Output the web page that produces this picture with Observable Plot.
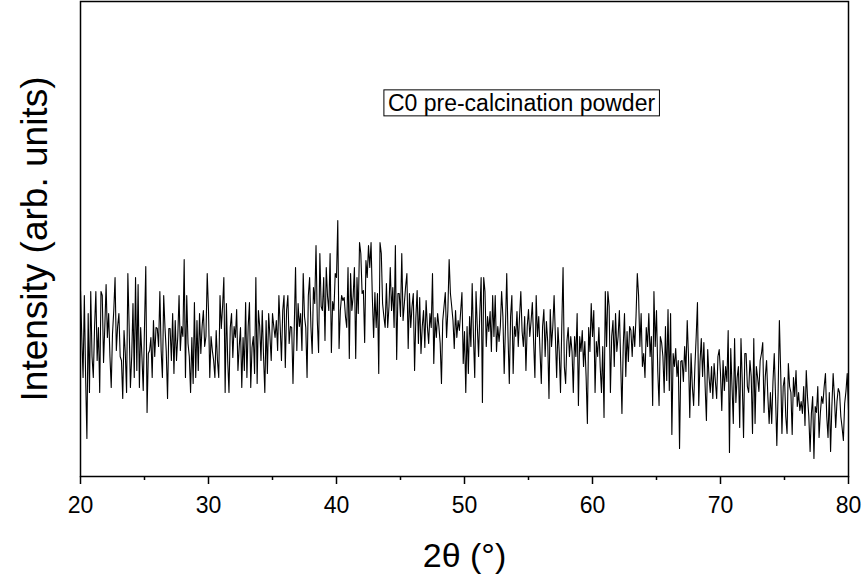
<!DOCTYPE html>
<html>
<head>
<meta charset="utf-8">
<script src="https://cdn.jsdelivr.net/npm/d3@7"></script>
<script src="https://cdn.jsdelivr.net/npm/@observablehq/plot@0.6"></script>
<style>
  html, body { margin: 0; padding: 0; background: #fff; }
  #chart { width: 868px; height: 582px; }
</style>
</head>
<body>
<div id="chart"></div>
<script>
// 2θ scan: start, step (degrees)
const startAngle = 20;
const stepAngle = 0.1;

// Intensity (arb. units), 0.1° steps, one array per 10° segment
const seg20 = [
  186,140,99,181,99,38,163,84,185,120,
  99,150,185,116,149,84,185,181,114,150,
  192,139,163,120,89,143,166,199,126,150,
  163,120,116,78,146,123,84,203,150,89,
  120,173,99,199,106,192,89,149,120,86,
  150,210,64,123,126,139,99,156,120,149,
  148,130,185,126,99,181,149,125,78,148,
  148,116,163,103,156,116,140,181,126,150,
  140,217,99,181,133,120,84,139,93,174,
  99,156,106,163,123,150,166,130,140,203
];
const seg30 = [
  166,99,140,126,116,99,146,116,99,181,
  148,170,199,84,173,116,84,149,163,119,
  150,139,167,106,130,149,89,139,106,174,
  99,150,174,89,129,140,103,199,93,166,
  150,116,166,120,84,156,103,163,140,116,
  163,150,139,156,126,181,150,116,166,181,
  109,166,181,133,150,149,93,150,209,126,
  173,150,163,126,203,160,149,99,181,199,
  150,123,189,173,231,156,124,223,170,166,
  199,136,209,180,166,223,124,175,166,203
];
const seg40 = [
  199,256,128,166,181,176,179,160,149,209,
  118,203,166,180,209,118,199,163,234,223,
  183,186,134,216,199,231,209,234,179,139,
  184,149,183,103,234,223,173,160,149,193,
  149,170,209,166,189,149,231,117,183,183,
  160,223,156,173,190,203,128,183,149,170,
  183,106,159,186,133,179,123,150,166,129,
  176,150,133,163,149,203,113,159,139,163,
  150,133,93,156,170,184,139,166,217,183,
  170,156,128,166,139,156,146,165,184,113
];
const seg50 = [
  145,84,150,103,160,130,193,140,99,185,
  150,120,165,199,74,199,185,130,160,145,
  165,125,181,140,181,125,150,135,150,185,
  160,103,150,203,140,93,160,181,103,150,
  140,165,130,160,185,145,130,160,106,150,
  167,140,155,174,135,99,181,140,160,125,
  93,150,167,120,155,135,78,167,130,150,
  181,140,99,149,125,84,150,209,110,93,
  135,149,120,140,125,84,140,120,163,71,
  140,125,146,110,135,100,53,149,125,173
];
const seg60 = [
  140,166,84,135,120,149,110,84,130,59,
  185,130,185,170,84,140,156,110,163,125,
  140,166,115,63,130,163,100,145,115,150,
  146,120,150,130,160,203,181,130,163,110,
  123,99,149,130,163,120,140,71,185,130,
  166,105,71,140,134,120,84,150,96,167,
  86,163,42,123,110,128,100,116,28,115,
  116,95,130,105,156,120,59,123,90,71,
  110,140,174,71,115,138,100,134,90,56,
  127,100,84,110,78,113,95,78,120,127
];
const seg70 = [
  103,66,116,86,110,95,146,24,128,90,
  53,138,74,99,110,49,138,95,39,123,
  123,90,84,116,100,43,138,53,110,99,
  85,116,123,134,64,100,116,80,53,84,
  53,95,123,80,31,84,156,106,43,90,
  99,60,43,113,90,84,42,99,80,106,
  70,84,66,75,63,90,51,106,79,60,
  25,63,80,18,70,64,90,39,63,80,
  73,90,103,60,39,84,25,70,103,80,
  49,75,88,84,60,49,36,73,85,103
];
const seg80 = [66];

const majorTicks = [20, 30, 40, 50, 60, 70, 80];
const minorTicks = [25, 35, 45, 55, 65, 75];
const xDomain = [20, 80];
const yDomain = [0, 475];
const xLabel = "2θ (°)";
const yLabel = "Intensity (arb. units)";
const legendLabel = "C0 pre-calcination powder";

const intensity = [].concat(seg20, seg30, seg40, seg50, seg60, seg70, seg80);
const data = intensity.map((v, i) => ({
  t: Math.round((startAngle + i * stepAngle) * 100) / 100,
  i: v
}));

const font = "'Liberation Sans', Arial, Helvetica, sans-serif";

const svg = Plot.plot({
  width: 868,
  height: 582,
  marginLeft: 80,
  marginRight: 20,
  marginTop: 1,
  marginBottom: 106,
  style: { fontFamily: font, fontSize: "23px", background: "white", color: "black", overflow: "visible" },
  x: { domain: xDomain },
  y: { domain: yDomain, axis: null },
  marks: [
    Plot.line(data, { x: "t", y: "i", stroke: "black", strokeWidth: 1.1 }),
    Plot.frame({ stroke: "black", strokeWidth: 1.5 }),
    Plot.axisX({ ticks: majorTicks, tickSize: 8, tickPadding: 12, strokeWidth: 1.5, fontSize: 23, tickFormat: d => String(d), label: null }),
    Plot.axisX({ ticks: minorTicks, tickSize: 4, strokeWidth: 1.5, tickFormat: () => "", label: null }),
    Plot.text([xLabel], { frameAnchor: "bottom", dy: 80, fontSize: 34, fill: "black", textAnchor: "middle", lineAnchor: "middle" }),
    Plot.text([yLabel], { frameAnchor: "left", dx: -45, rotate: -90, fontSize: 37, fill: "black", textAnchor: "middle", lineAnchor: "middle" }),
    Plot.text([legendLabel], { frameAnchor: "top", dx: 57, dy: 102, fontSize: 23, fill: "black", textAnchor: "middle", lineAnchor: "middle" })
  ]
});

document.getElementById("chart").appendChild(svg);

// box around the legend text
const legendText = Array.from(svg.querySelectorAll("text")).find(t => t.textContent === legendLabel);
if (legendText) {
  const bb = legendText.getBBox();
  const r = document.createElementNS("http://www.w3.org/2000/svg", "rect");
  r.setAttribute("x", bb.x - 4);
  r.setAttribute("y", bb.y);
  r.setAttribute("width", bb.width + 8);
  r.setAttribute("height", bb.height);
  r.setAttribute("fill", "white");
  r.setAttribute("stroke", "black");
  r.setAttribute("stroke-width", 1);
  if (legendText.getAttribute("transform")) r.setAttribute("transform", legendText.getAttribute("transform"));
  legendText.parentNode.insertBefore(r, legendText);
}
</script>
</body>
</html>
